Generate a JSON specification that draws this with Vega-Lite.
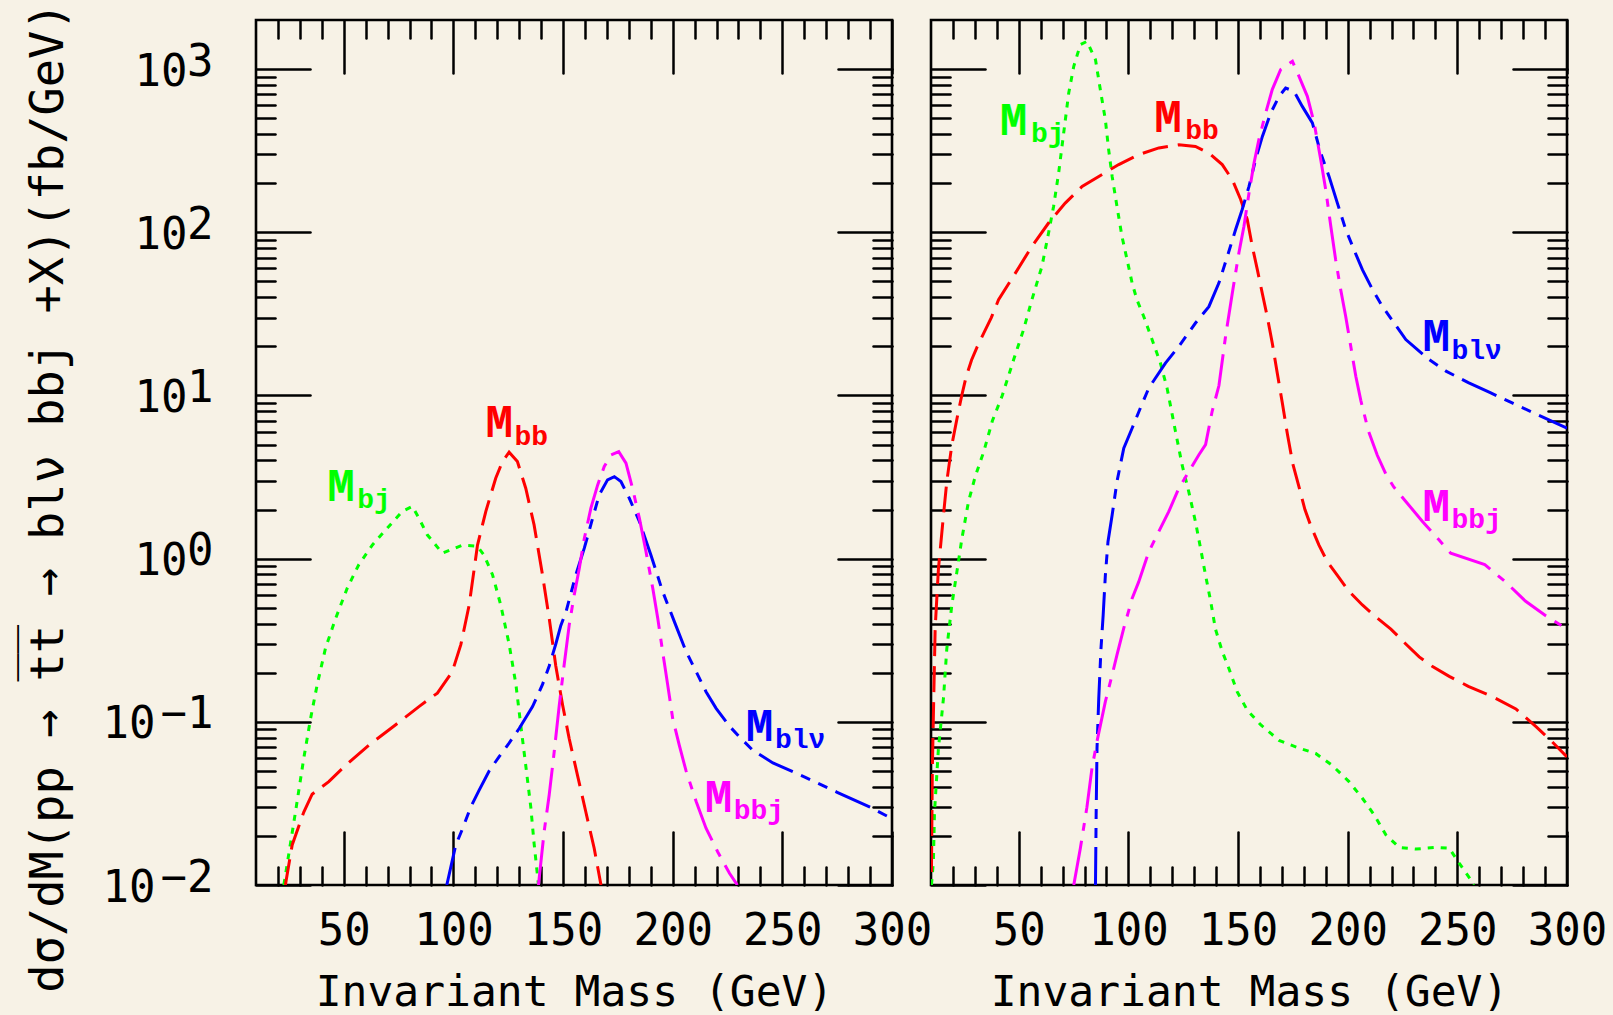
{
"$schema":"https://vega.github.io/schema/vega-lite/v6.json",
"background":"#f7f2e6",
"padding":{"left":22,"top":0,"right":5,"bottom":0},
"spacing":39,
"bounds":"flush",
"config":{"view":{"stroke":"#000","strokeWidth":2.6},"axis":{"grid":false,"domain":false,"tickColor":"#000","tickWidth":2.5,"tickCap":"round","labelColor":"#000","titleColor":"#000"}},
"datasets":{
"L":[
{"s":"bj","x":22.7,"y":0.01},{"s":"bj","x":28,"y":0.028},{"s":"bj","x":31.8,"y":0.06},{"s":"bj","x":34.9,"y":0.105},{"s":"bj","x":37.9,"y":0.169},{"s":"bj","x":41.7,"y":0.283},{"s":"bj","x":46.3,"y":0.43},{"s":"bj","x":51.6,"y":0.66},{"s":"bj","x":56.9,"y":0.92},{"s":"bj","x":63,"y":1.21},{"s":"bj","x":69.9,"y":1.54},{"s":"bj","x":76.7,"y":1.95},{"s":"bj","x":81.3,"y":2.09},{"s":"bj","x":84.3,"y":1.77},{"s":"bj","x":88.1,"y":1.4},{"s":"bj","x":95,"y":1.08},{"s":"bj","x":104.1,"y":1.21},{"s":"bj","x":111,"y":1.19},{"s":"bj","x":114,"y":1.05},{"s":"bj","x":117.8,"y":0.8},{"s":"bj","x":121.6,"y":0.52},{"s":"bj","x":125.4,"y":0.3},{"s":"bj","x":128.5,"y":0.17},{"s":"bj","x":130.7,"y":0.096},{"s":"bj","x":133,"y":0.054},{"s":"bj","x":135.3,"y":0.03},{"s":"bj","x":136.8,"y":0.018},{"s":"bj","x":138.8,"y":0.01},
{"s":"bb","x":23.4,"y":0.01},{"s":"bb","x":26.5,"y":0.0176},{"s":"bb","x":31.8,"y":0.028},{"s":"bb","x":35.6,"y":0.036},{"s":"bb","x":43.2,"y":0.043},{"s":"bb","x":50.8,"y":0.054},{"s":"bb","x":61.5,"y":0.072},{"s":"bb","x":73.7,"y":0.096},{"s":"bb","x":84.3,"y":0.124},{"s":"bb","x":92.7,"y":0.15},{"s":"bb","x":99.5,"y":0.203},{"s":"bb","x":103.4,"y":0.297},{"s":"bb","x":107.2,"y":0.52},{"s":"bb","x":111,"y":1.21},{"s":"bb","x":114.8,"y":1.95},{"s":"bb","x":119.3,"y":3.11},{"s":"bb","x":122.4,"y":3.94},{"s":"bb","x":125.4,"y":4.49},{"s":"bb","x":129.2,"y":3.94},{"s":"bb","x":133,"y":2.7},{"s":"bb","x":136.8,"y":1.61},{"s":"bb","x":140.6,"y":0.8},{"s":"bb","x":143.7,"y":0.43},{"s":"bb","x":146.7,"y":0.22},{"s":"bb","x":149.8,"y":0.127},{"s":"bb","x":152.8,"y":0.079},{"s":"bb","x":156.6,"y":0.047},{"s":"bb","x":160.4,"y":0.028},{"s":"bb","x":164.2,"y":0.0168},{"s":"bb","x":167.3,"y":0.01},
{"s":"blnu","x":97,"y":0.01},{"s":"blnu","x":101.1,"y":0.0176},{"s":"blnu","x":104.1,"y":0.022},{"s":"blnu","x":107.9,"y":0.03},{"s":"blnu","x":111.7,"y":0.038},{"s":"blnu","x":116.3,"y":0.05},{"s":"blnu","x":120.8,"y":0.061},{"s":"blnu","x":125.4,"y":0.074},{"s":"blnu","x":130,"y":0.091},{"s":"blnu","x":136.1,"y":0.124},{"s":"blnu","x":140.6,"y":0.169},{"s":"blnu","x":143.7,"y":0.22},{"s":"blnu","x":146.7,"y":0.3},{"s":"blnu","x":149,"y":0.39},{"s":"blnu","x":151.3,"y":0.47},{"s":"blnu","x":155.9,"y":0.8},{"s":"blnu","x":159.7,"y":1.16},{"s":"blnu","x":163.5,"y":1.77},{"s":"blnu","x":166.5,"y":2.46},{"s":"blnu","x":170.3,"y":3.04},{"s":"blnu","x":173.4,"y":3.18},{"s":"blnu","x":176.4,"y":2.97},{"s":"blnu","x":180.2,"y":2.35},{"s":"blnu","x":184.8,"y":1.69},{"s":"blnu","x":190.1,"y":1.05},{"s":"blnu","x":195.4,"y":0.63},{"s":"blnu","x":200.8,"y":0.41},{"s":"blnu","x":206.1,"y":0.27},{"s":"blnu","x":210.7,"y":0.203},{"s":"blnu","x":215.2,"y":0.153},{"s":"blnu","x":219.8,"y":0.121},{"s":"blnu","x":225.9,"y":0.094},{"s":"blnu","x":230.4,"y":0.081},{"s":"blnu","x":236.5,"y":0.067},{"s":"blnu","x":245.7,"y":0.056},{"s":"blnu","x":260,"y":0.046},{"s":"blnu","x":275,"y":0.037},{"s":"blnu","x":290,"y":0.03},{"s":"blnu","x":300,"y":0.0255},
{"s":"bbj","x":138.8,"y":0.01},{"s":"bbj","x":141.4,"y":0.0213},{"s":"bbj","x":143.7,"y":0.0357},{"s":"bbj","x":146,"y":0.066},{"s":"bbj","x":148.3,"y":0.127},{"s":"bbj","x":150.5,"y":0.223},{"s":"bbj","x":152.8,"y":0.39},{"s":"bbj","x":155.1,"y":0.6},{"s":"bbj","x":157.4,"y":0.87},{"s":"bbj","x":159.7,"y":1.33},{"s":"bbj","x":162.7,"y":2.04},{"s":"bbj","x":165.8,"y":2.83},{"s":"bbj","x":168.8,"y":3.67},{"s":"bbj","x":171.9,"y":4.32},{"s":"bbj","x":175.4,"y":4.53},{"s":"bbj","x":178.7,"y":3.85},{"s":"bbj","x":181.7,"y":2.7},{"s":"bbj","x":184.8,"y":1.77},{"s":"bbj","x":187.8,"y":1.11},{"s":"bbj","x":190.9,"y":0.66},{"s":"bbj","x":193.2,"y":0.43},{"s":"bbj","x":195.4,"y":0.27},{"s":"bbj","x":197.7,"y":0.169},{"s":"bbj","x":200,"y":0.105},{"s":"bbj","x":203,"y":0.072},{"s":"bbj","x":206.1,"y":0.05},{"s":"bbj","x":210.7,"y":0.0325},{"s":"bbj","x":215.2,"y":0.0223},{"s":"bbj","x":220.5,"y":0.016},{"s":"bbj","x":225.9,"y":0.0118},{"s":"bbj","x":229.5,"y":0.01}
],
"R":[
{"s":"bj","x":10.2,"y":0.01},{"s":"bj","x":11.1,"y":0.014},{"s":"bj","x":11.6,"y":0.028},{"s":"bj","x":13.4,"y":0.069},{"s":"bj","x":15.7,"y":0.14},{"s":"bj","x":17.2,"y":0.28},{"s":"bj","x":19.5,"y":0.52},{"s":"bj","x":21.8,"y":0.83},{"s":"bj","x":24.1,"y":1.33},{"s":"bj","x":27.1,"y":2.24},{"s":"bj","x":30.2,"y":3.2},{"s":"bj","x":34,"y":4.5},{"s":"bj","x":38,"y":7},{"s":"bj","x":42.5,"y":10},{"s":"bj","x":47.7,"y":16.6},{"s":"bj","x":52.2,"y":25.3},{"s":"bj","x":56,"y":38.6},{"s":"bj","x":60.6,"y":62},{"s":"bj","x":63.6,"y":99},{"s":"bj","x":65.9,"y":144},{"s":"bj","x":68.2,"y":231},{"s":"bj","x":70.5,"y":406},{"s":"bj","x":72.8,"y":714},{"s":"bj","x":75.1,"y":1040},{"s":"bj","x":78.1,"y":1413},{"s":"bj","x":81.1,"y":1480},{"s":"bj","x":85,"y":1143},{"s":"bj","x":87.2,"y":749},{"s":"bj","x":89.5,"y":490},{"s":"bj","x":91,"y":321},{"s":"bj","x":92.6,"y":220},{"s":"bj","x":94.8,"y":144},{"s":"bj","x":97.1,"y":94},{"s":"bj","x":99.4,"y":68},{"s":"bj","x":101.7,"y":48.9},{"s":"bj","x":103.9,"y":38.6},{"s":"bj","x":107,"y":30.5},{"s":"bj","x":110.8,"y":22},{"s":"bj","x":114.6,"y":15.8},{"s":"bj","x":117.7,"y":11},{"s":"bj","x":121.5,"y":6},{"s":"bj","x":124.5,"y":3.75},{"s":"bj","x":127.6,"y":2.55},{"s":"bj","x":130.6,"y":1.68},{"s":"bj","x":132.9,"y":1.16},{"s":"bj","x":135.2,"y":0.79},{"s":"bj","x":137.5,"y":0.55},{"s":"bj","x":139.7,"y":0.37},{"s":"bj","x":142.8,"y":0.27},{"s":"bj","x":145.8,"y":0.213},{"s":"bj","x":149.6,"y":0.153},{"s":"bj","x":154.2,"y":0.118},{"s":"bj","x":160.3,"y":0.096},{"s":"bj","x":168.7,"y":0.077},{"s":"bj","x":177.8,"y":0.069},{"s":"bj","x":185.4,"y":0.064},{"s":"bj","x":193,"y":0.054},{"s":"bj","x":200.6,"y":0.043},{"s":"bj","x":206.7,"y":0.034},{"s":"bj","x":212,"y":0.027},{"s":"bj","x":217.4,"y":0.0203},{"s":"bj","x":223.5,"y":0.017},{"s":"bj","x":231.1,"y":0.0166},{"s":"bj","x":240.2,"y":0.017},{"s":"bj","x":246.3,"y":0.0168},{"s":"bj","x":251,"y":0.0135},{"s":"bj","x":256.7,"y":0.0105},{"s":"bj","x":257.5,"y":0.01},
{"s":"bb","x":10.2,"y":0.012},{"s":"bb","x":10.6,"y":0.05},{"s":"bb","x":11.2,"y":0.13},{"s":"bb","x":11.9,"y":0.375},{"s":"bb","x":13.4,"y":0.87},{"s":"bb","x":15.7,"y":1.85},{"s":"bb","x":17.2,"y":2.97},{"s":"bb","x":19.5,"y":4.97},{"s":"bb","x":22.5,"y":8},{"s":"bb","x":24.1,"y":10.1},{"s":"bb","x":26,"y":13},{"s":"bb","x":28.5,"y":16.5},{"s":"bb","x":31,"y":19.8},{"s":"bb","x":34,"y":24},{"s":"bb","x":37.5,"y":30},{"s":"bb","x":40.8,"y":38.6},{"s":"bb","x":48.4,"y":56},{"s":"bb","x":56,"y":82},{"s":"bb","x":63.6,"y":114},{"s":"bb","x":71.2,"y":151},{"s":"bb","x":78.9,"y":191},{"s":"bb","x":86.5,"y":220},{"s":"bb","x":95.6,"y":260},{"s":"bb","x":104.7,"y":299},{"s":"bb","x":113.9,"y":329},{"s":"bb","x":123,"y":344},{"s":"bb","x":130.6,"y":336},{"s":"bb","x":136.7,"y":306},{"s":"bb","x":142.8,"y":260},{"s":"bb","x":147.4,"y":210},{"s":"bb","x":151.2,"y":159},{"s":"bb","x":154.2,"y":120},{"s":"bb","x":156.5,"y":82},{"s":"bb","x":158.8,"y":59},{"s":"bb","x":161.1,"y":42},{"s":"bb","x":163.3,"y":30.5},{"s":"bb","x":165.6,"y":21},{"s":"bb","x":167.9,"y":13.7},{"s":"bb","x":170.2,"y":9},{"s":"bb","x":172.5,"y":5.8},{"s":"bb","x":175,"y":3.8},{"s":"bb","x":177.8,"y":2.75},{"s":"bb","x":180.5,"y":2},{"s":"bb","x":183.1,"y":1.6},{"s":"bb","x":186.9,"y":1.21},{"s":"bb","x":190.7,"y":0.96},{"s":"bb","x":195.3,"y":0.79},{"s":"bb","x":200.6,"y":0.63},{"s":"bb","x":206.7,"y":0.52},{"s":"bb","x":212.8,"y":0.44},{"s":"bb","x":219.7,"y":0.37},{"s":"bb","x":226.5,"y":0.3},{"s":"bb","x":232.6,"y":0.25},{"s":"bb","x":238.7,"y":0.218},{"s":"bb","x":246.3,"y":0.19},{"s":"bb","x":255,"y":0.165},{"s":"bb","x":265,"y":0.145},{"s":"bb","x":276.7,"y":0.12},{"s":"bb","x":286,"y":0.093},{"s":"bb","x":293,"y":0.076},{"s":"bb","x":300,"y":0.061},
{"s":"blnu","x":85,"y":0.01},{"s":"blnu","x":85.3,"y":0.027},{"s":"blnu","x":85.7,"y":0.069},{"s":"blnu","x":86.5,"y":0.14},{"s":"blnu","x":87.5,"y":0.28},{"s":"blnu","x":88.5,"y":0.45},{"s":"blnu","x":89.5,"y":0.79},{"s":"blnu","x":90.7,"y":1.27},{"s":"blnu","x":92.6,"y":1.85},{"s":"blnu","x":94.8,"y":2.97},{"s":"blnu","x":97.9,"y":4.75},{"s":"blnu","x":101.7,"y":6.3},{"s":"blnu","x":105.5,"y":8.4},{"s":"blnu","x":109.3,"y":11.1},{"s":"blnu","x":116.9,"y":15.8},{"s":"blnu","x":123,"y":20},{"s":"blnu","x":130.6,"y":27.8},{"s":"blnu","x":136.7,"y":35},{"s":"blnu","x":141.3,"y":49},{"s":"blnu","x":145.1,"y":71},{"s":"blnu","x":148.9,"y":104},{"s":"blnu","x":151.9,"y":138},{"s":"blnu","x":155,"y":191},{"s":"blnu","x":158,"y":279},{"s":"blnu","x":161.1,"y":387},{"s":"blnu","x":164.9,"y":538},{"s":"blnu","x":168.7,"y":681},{"s":"blnu","x":171.7,"y":766},{"s":"blnu","x":175.5,"y":731},{"s":"blnu","x":179.3,"y":591},{"s":"blnu","x":183.9,"y":468},{"s":"blnu","x":187.7,"y":306},{"s":"blnu","x":191.5,"y":220},{"s":"blnu","x":195.3,"y":151},{"s":"blnu","x":199.1,"y":104},{"s":"blnu","x":202.9,"y":78},{"s":"blnu","x":206.7,"y":59},{"s":"blnu","x":211.3,"y":44.6},{"s":"blnu","x":215.8,"y":35.2},{"s":"blnu","x":221.2,"y":27.8},{"s":"blnu","x":226.5,"y":22},{"s":"blnu","x":231.8,"y":19.1},{"s":"blnu","x":237.1,"y":16.6},{"s":"blnu","x":244.8,"y":14.1},{"s":"blnu","x":255,"y":12},{"s":"blnu","x":265,"y":10.4},{"s":"blnu","x":275,"y":9},{"s":"blnu","x":285,"y":7.8},{"s":"blnu","x":300,"y":6.3},
{"s":"bbj","x":75.1,"y":0.01},{"s":"bbj","x":78.1,"y":0.0168},{"s":"bbj","x":81.1,"y":0.03},{"s":"bbj","x":83.4,"y":0.052},{"s":"bbj","x":85.7,"y":0.076},{"s":"bbj","x":89.5,"y":0.133},{"s":"bbj","x":92.6,"y":0.194},{"s":"bbj","x":94.8,"y":0.257},{"s":"bbj","x":97.9,"y":0.375},{"s":"bbj","x":101.7,"y":0.57},{"s":"bbj","x":104.7,"y":0.72},{"s":"bbj","x":109.3,"y":1.1},{"s":"bbj","x":113.9,"y":1.47},{"s":"bbj","x":118.4,"y":1.94},{"s":"bbj","x":123,"y":2.7},{"s":"bbj","x":127.6,"y":3.42},{"s":"bbj","x":132.1,"y":4.32},{"s":"bbj","x":135.2,"y":5},{"s":"bbj","x":138.2,"y":8},{"s":"bbj","x":141.3,"y":11.5},{"s":"bbj","x":144.3,"y":23},{"s":"bbj","x":147.4,"y":42.5},{"s":"bbj","x":150.4,"y":75},{"s":"bbj","x":152.7,"y":109},{"s":"bbj","x":155,"y":174},{"s":"bbj","x":157.3,"y":266},{"s":"bbj","x":159.5,"y":370},{"s":"bbj","x":162.6,"y":538},{"s":"bbj","x":165.6,"y":749},{"s":"bbj","x":169.4,"y":993},{"s":"bbj","x":174.8,"y":1117},{"s":"bbj","x":177.8,"y":904},{"s":"bbj","x":181.6,"y":681},{"s":"bbj","x":184.7,"y":468},{"s":"bbj","x":187.7,"y":279},{"s":"bbj","x":190,"y":182},{"s":"bbj","x":192.3,"y":109},{"s":"bbj","x":194.5,"y":68},{"s":"bbj","x":196.8,"y":44.6},{"s":"bbj","x":199.1,"y":30.5},{"s":"bbj","x":201.4,"y":20},{"s":"bbj","x":203.7,"y":13.1},{"s":"bbj","x":206,"y":9.3},{"s":"bbj","x":209.4,"y":6.1},{"s":"bbj","x":213.5,"y":4.3},{"s":"bbj","x":217.4,"y":3.3},{"s":"bbj","x":221,"y":2.75},{"s":"bbj","x":226.5,"y":2.24},{"s":"bbj","x":234.1,"y":1.69},{"s":"bbj","x":241.7,"y":1.3},{"s":"bbj","x":247,"y":1.08},{"s":"bbj","x":262.5,"y":0.92},{"s":"bbj","x":272,"y":0.72},{"s":"bbj","x":281,"y":0.55},{"s":"bbj","x":290,"y":0.45},{"s":"bbj","x":300,"y":0.37}
],
"labL":[
{"s":"bj","mx":42.5,"my":2.24,"sx":56.2,"sy":2.03,"t":"bj"},
{"s":"bb","mx":114.6,"my":5.6,"sx":127.9,"sy":5.0,"t":"bb"},
{"s":"blnu","mx":233.3,"my":0.0767,"sx":246.6,"sy":0.0695,"t":"blν"},
{"s":"bbj","mx":214.6,"my":0.0282,"sx":227.8,"sy":0.0255,"t":"bbj"}
],
"labR":[
{"s":"bj","mx":41.4,"my":397,"sx":55.6,"sy":360,"t":"bj"},
{"s":"bb","mx":111.8,"my":414,"sx":125.9,"sy":375,"t":"bb"},
{"s":"blnu","mx":234.1,"my":18.6,"sx":247.3,"sy":16.8,"t":"blν"},
{"s":"bbj","mx":234.1,"my":1.71,"sx":247.3,"sy":1.55,"t":"bbj"}
]
},
"hconcat":[
{
"width":636,"height":865,
"resolve":{"axis":{"x":"independent","y":"independent"}},
"layer":[
{"data":{"name":"L"},"transform":[{"filter":"datum.s=='bj'"}],
 "mark":{"type":"line","color":"#00ff00","strokeWidth":3,"strokeDash":[6,7],"clip":true},
 "encoding":{
  "x":{"field":"x","type":"quantitative","scale":{"domain":[10,300],"nice":false,"zero":false},
       "axis":{"orient":"bottom","values":[50,100,150,200,250,300],"ticks":false,"labelPadding":24,"labelFont":"DejaVu Sans Mono","labelFontSize":44,"labelOverlap":false,"labelFlush":false,"labelBound":false,"labelBaseline":"top","labelAngle":0,"title":"Invariant Mass (GeV)","titleFont":"DejaVu Sans Mono","titleFontSize":43,"titleFontWeight":"normal","titlePadding":18}},
  "y":{"field":"y","type":"quantitative","scale":{"type":"log","domain":[0.01,2000],"nice":false},
       "axis":{"orient":"left","values":[1,10,100,1000],"ticks":false,"labelExpr":"'10'","labelFont":"DejaVu Sans Mono","labelFontSize":44,"labelPadding":69,"labelBaseline":"middle","labelAlign":"right","labelOffset":3,"labelOverlap":false,"labelBound":false,"labelFlush":false,
       "title":"dσ/dM(pp → t\u0305t\u0305 → blν bbj +X)(fb/GeV)","titleFont":"DejaVu Sans Mono","titleFontSize":47,"titleFontWeight":"normal","titleX":-208,"titleY":477,"titleAngle":270,"titleBaseline":"middle","titleAlign":"center"}}}},
{"data":{"name":"L"},"transform":[{"filter":"datum.s=='bb'"}],
 "mark":{"type":"line","color":"#ff0000","strokeWidth":3,"strokeDash":[26,10],"clip":true},
 "encoding":{
  "x":{"field":"x","type":"quantitative","scale":{"domain":[10,300],"nice":false,"zero":false},
       "axis":{"orient":"bottom","values":[50,100,150,200,250,300],"labels":false,"tickSize":-53,"title":null}},
  "y":{"field":"y","type":"quantitative","scale":{"type":"log","domain":[0.01,2000],"nice":false},
       "axis":{"orient":"left","values":[0.01,0.1,1,10,100,1000],"ticks":false,"labelExpr":"datum.value >= 1000 ? '3' : datum.value >= 100 ? '2' : datum.value >= 10 ? '1' : datum.value >= 1 ? '0' : datum.value >= 0.1 ? '\u22121' : '\u22122'","labelFont":"DejaVu Sans Mono","labelFontSize":44,"labelPadding":43,"labelBaseline":"middle","labelAlign":"right","labelOffset":-7,"labelOverlap":false,"labelBound":false,"labelFlush":false,"title":null}}}},
{"data":{"name":"L"},"transform":[{"filter":"datum.s=='blnu'"}],
 "mark":{"type":"line","color":"#0000ff","strokeWidth":3,"strokeDash":[38,9,10,9,10,9],"clip":true},
 "encoding":{
  "x":{"field":"x","type":"quantitative","scale":{"domain":[10,300],"nice":false,"zero":false},
       "axis":{"orient":"bottom","values":[20,30,40,60,70,80,90,110,120,130,140,160,170,180,190,210,220,230,240,260,270,280,290],"labels":false,"tickSize":-18,"title":null}},
  "y":{"field":"y","type":"quantitative","scale":{"type":"log","domain":[0.01,2000],"nice":false},
       "axis":{"orient":"left","values":[0.01,0.1,1,10,100,1000],"labels":false,"tickSize":-54,"title":null}}}},
{"data":{"name":"L"},"transform":[{"filter":"datum.s=='bbj'"}],
 "mark":{"type":"line","color":"#ff00ff","strokeWidth":3,"strokeDash":[45,10,8,10],"clip":true},
 "encoding":{
  "x":{"field":"x","type":"quantitative","scale":{"domain":[10,300],"nice":false,"zero":false},
       "axis":{"orient":"top","values":[50,100,150,200,250,300],"labels":false,"tickSize":-53,"title":null}},
  "y":{"field":"y","type":"quantitative","scale":{"type":"log","domain":[0.01,2000],"nice":false},
       "axis":{"orient":"left","values":[0.02,0.03,0.04,0.05,0.06,0.07,0.08,0.09,0.2,0.3,0.4,0.5,0.6,0.7,0.8,0.9,2,3,4,5,6,7,8,9,20,30,40,50,60,70,80,90,200,300,400,500,600,700,800,900],"labels":false,"tickSize":-19,"title":null}}}},
{"data":{"name":"labL"},
 "mark":{"type":"text","font":"Liberation Mono","fontWeight":"bold","fontSize":46,"align":"left","baseline":"alphabetic"},
 "encoding":{
  "x":{"field":"mx","type":"quantitative","scale":{"domain":[10,300],"nice":false,"zero":false},
       "axis":{"orient":"top","values":[20,30,40,60,70,80,90,110,120,130,140,160,170,180,190,210,220,230,240,260,270,280,290],"labels":false,"tickSize":-18,"title":null}},
  "y":{"field":"my","type":"quantitative","scale":{"type":"log","domain":[0.01,2000],"nice":false},
       "axis":{"orient":"right","values":[0.01,0.1,1,10,100,1000],"labels":false,"tickSize":-54,"title":null}},
  "text":{"value":"M"},
  "color":{"field":"s","type":"nominal","scale":{"domain":["bj","bb","blnu","bbj"],"range":["#00ff00","#ff0000","#0000ff","#ff00ff"]},"legend":null}}},
{"data":{"name":"labL"},
 "mark":{"type":"text","font":"Liberation Mono","fontWeight":"bold","fontSize":28,"align":"left","baseline":"alphabetic"},
 "encoding":{
  "x":{"field":"sx","type":"quantitative","scale":{"domain":[10,300],"nice":false,"zero":false},"axis":null},
  "y":{"field":"sy","type":"quantitative","scale":{"type":"log","domain":[0.01,2000],"nice":false},
       "axis":{"orient":"right","values":[0.02,0.03,0.04,0.05,0.06,0.07,0.08,0.09,0.2,0.3,0.4,0.5,0.6,0.7,0.8,0.9,2,3,4,5,6,7,8,9,20,30,40,50,60,70,80,90,200,300,400,500,600,700,800,900],"labels":false,"tickSize":-19,"title":null}},
  "text":{"field":"t"},
  "color":{"field":"s","type":"nominal","scale":{"domain":["bj","bb","blnu","bbj"],"range":["#00ff00","#ff0000","#0000ff","#ff00ff"]},"legend":null}}},
{"data":{"name":"L"},"transform":[{"filter":"datum.s=='none'"}],
 "mark":{"type":"line","clip":true},
 "encoding":{
  "x":{"field":"x","type":"quantitative","scale":{"domain":[10,300],"nice":false,"zero":false},"axis":null},
  "y":{"field":"y","type":"quantitative","scale":{"type":"log","domain":[0.01,2000],"nice":false},
       "axis":{"orient":"left","values":[0.01,0.1],"ticks":false,"labelExpr":"'10'","labelFont":"DejaVu Sans Mono","labelFontSize":44,"labelPadding":101,"labelBaseline":"middle","labelAlign":"right","labelOffset":3,"labelOverlap":false,"labelBound":false,"labelFlush":false,"title":null}}}}
]
},
{
"width":636,"height":865,
"resolve":{"axis":{"x":"independent","y":"independent"}},
"layer":[
{"data":{"name":"R"},"transform":[{"filter":"datum.s=='bj'"}],
 "mark":{"type":"line","color":"#00ff00","strokeWidth":3,"strokeDash":[6,7],"clip":true},
 "encoding":{
  "x":{"field":"x","type":"quantitative","scale":{"domain":[10,300],"nice":false,"zero":false},
       "axis":{"orient":"bottom","values":[50,100,150,200,250,300],"ticks":false,"labelPadding":24,"labelFont":"DejaVu Sans Mono","labelFontSize":44,"labelOverlap":false,"labelFlush":false,"labelBound":false,"labelBaseline":"top","labelAngle":0,"title":"Invariant Mass (GeV)","titleFont":"DejaVu Sans Mono","titleFontSize":43,"titleFontWeight":"normal","titlePadding":18}},
  "y":{"field":"y","type":"quantitative","scale":{"type":"log","domain":[0.01,2000],"nice":false},
       "axis":{"orient":"left","values":[0.01,0.1,1,10,100,1000],"labels":false,"tickSize":-54,"title":null}}}},
{"data":{"name":"R"},"transform":[{"filter":"datum.s=='bb'"}],
 "mark":{"type":"line","color":"#ff0000","strokeWidth":3,"strokeDash":[26,10],"clip":true},
 "encoding":{
  "x":{"field":"x","type":"quantitative","scale":{"domain":[10,300],"nice":false,"zero":false},
       "axis":{"orient":"bottom","values":[50,100,150,200,250,300],"labels":false,"tickSize":-53,"title":null}},
  "y":{"field":"y","type":"quantitative","scale":{"type":"log","domain":[0.01,2000],"nice":false},
       "axis":{"orient":"left","values":[0.02,0.03,0.04,0.05,0.06,0.07,0.08,0.09,0.2,0.3,0.4,0.5,0.6,0.7,0.8,0.9,2,3,4,5,6,7,8,9,20,30,40,50,60,70,80,90,200,300,400,500,600,700,800,900],"labels":false,"tickSize":-19,"title":null}}}},
{"data":{"name":"R"},"transform":[{"filter":"datum.s=='blnu'"}],
 "mark":{"type":"line","color":"#0000ff","strokeWidth":3,"strokeDash":[38,9,10,9,10,9],"clip":true},
 "encoding":{
  "x":{"field":"x","type":"quantitative","scale":{"domain":[10,300],"nice":false,"zero":false},
       "axis":{"orient":"bottom","values":[20,30,40,60,70,80,90,110,120,130,140,160,170,180,190,210,220,230,240,260,270,280,290],"labels":false,"tickSize":-18,"title":null}},
  "y":{"field":"y","type":"quantitative","scale":{"type":"log","domain":[0.01,2000],"nice":false},
       "axis":{"orient":"right","values":[0.01,0.1,1,10,100,1000],"labels":false,"tickSize":-54,"title":null}}}},
{"data":{"name":"R"},"transform":[{"filter":"datum.s=='bbj'"}],
 "mark":{"type":"line","color":"#ff00ff","strokeWidth":3,"strokeDash":[45,10,8,10],"clip":true},
 "encoding":{
  "x":{"field":"x","type":"quantitative","scale":{"domain":[10,300],"nice":false,"zero":false},
       "axis":{"orient":"top","values":[50,100,150,200,250,300],"labels":false,"tickSize":-53,"title":null}},
  "y":{"field":"y","type":"quantitative","scale":{"type":"log","domain":[0.01,2000],"nice":false},
       "axis":{"orient":"right","values":[0.02,0.03,0.04,0.05,0.06,0.07,0.08,0.09,0.2,0.3,0.4,0.5,0.6,0.7,0.8,0.9,2,3,4,5,6,7,8,9,20,30,40,50,60,70,80,90,200,300,400,500,600,700,800,900],"labels":false,"tickSize":-19,"title":null}}}},
{"data":{"name":"labR"},
 "mark":{"type":"text","font":"Liberation Mono","fontWeight":"bold","fontSize":46,"align":"left","baseline":"alphabetic"},
 "encoding":{
  "x":{"field":"mx","type":"quantitative","scale":{"domain":[10,300],"nice":false,"zero":false},
       "axis":{"orient":"top","values":[20,30,40,60,70,80,90,110,120,130,140,160,170,180,190,210,220,230,240,260,270,280,290],"labels":false,"tickSize":-18,"title":null}},
  "y":{"field":"my","type":"quantitative","scale":{"type":"log","domain":[0.01,2000],"nice":false},"axis":null},
  "text":{"value":"M"},
  "color":{"field":"s","type":"nominal","scale":{"domain":["bj","bb","blnu","bbj"],"range":["#00ff00","#ff0000","#0000ff","#ff00ff"]},"legend":null}}},
{"data":{"name":"labR"},
 "mark":{"type":"text","font":"Liberation Mono","fontWeight":"bold","fontSize":28,"align":"left","baseline":"alphabetic"},
 "encoding":{
  "x":{"field":"sx","type":"quantitative","scale":{"domain":[10,300],"nice":false,"zero":false},"axis":null},
  "y":{"field":"sy","type":"quantitative","scale":{"type":"log","domain":[0.01,2000],"nice":false},"axis":null},
  "text":{"field":"t"},
  "color":{"field":"s","type":"nominal","scale":{"domain":["bj","bb","blnu","bbj"],"range":["#00ff00","#ff0000","#0000ff","#ff00ff"]},"legend":null}}}
]
}
]
}
